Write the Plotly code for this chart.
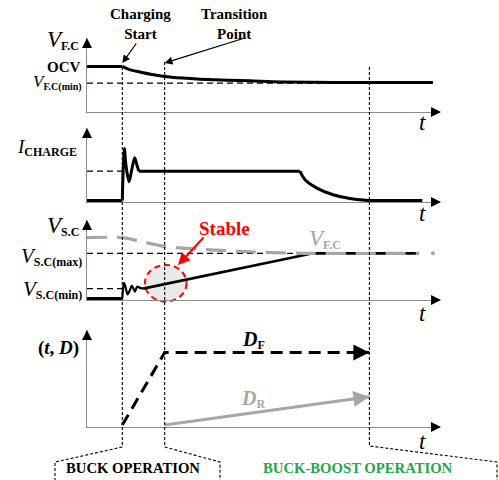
import plotly.graph_objects as go

# ---- time markers (arbitrary time units, axis runs 0..10) ----
T_MAX = 10.0
T_START = 1.0     # charging start
T_TRANS = 2.2     # transition point
T_END = 8.0       # end of buck-boost interval shown

# ---- V_F.C (fuel-cell voltage) ----
OCV = 0.608
VFC_MIN = 0.378
vfc_flat_t = [0, 1.0]
vfc_flat_v = [0.608, 0.608]
vfc_t = [1.0, 1.2, 1.5, 1.8, 2.2, 2.7, 3.2, 4.0, 4.6, 5.5, 7.0, 9.8]
vfc_v = [0.608, 0.565, 0.531, 0.500, 0.469, 0.447, 0.432, 0.418, 0.410, 0.395, 0.388, 0.385]

# ---- I_CHARGE ----
I_LEVEL = 0.405
ich_pre_t = [0, 1.0]
ich_pre_v = [0, 0]
ich_osc_t = [1.0, 1.02, 1.06, 1.10, 1.19, 1.27, 1.35, 1.42, 1.47]
ich_osc_v = [0, 0.35, 0.716, 0.50, 0.26, 0.43, 0.59, 0.48, 0.405]
ich_flat_t = [1.47, 6.03]
ich_flat_v = [0.405, 0.405]
ich_dec_t = [6.03, 6.17, 6.5, 6.97, 7.45, 8.0]
ich_dec_v = [0.405, 0.29, 0.175, 0.08, 0.027, 0.0]
ich_tail_t = [8.0, 9.5]
ich_tail_v = [0, 0]

# ---- V_S.C (supercapacitor voltage) with V_F.C overlay ----
VSC_MAX = 0.575
VSC_MIN = 0.125
vfc2_t = [0, 1.0, 1.5, 2.2, 3.5, 4.6, 6.2, 9.4]
vfc2_v = [0.775, 0.775, 0.73, 0.6625, 0.62, 0.595, 0.575, 0.575]
vfc2_dot_t = [9.8]
vfc2_dot_v = [0.575]
vsc_pre_t = [0, 1.0]
vsc_pre_v = [0, 0]
vsc_osc_t = [1.0, 1.02, 1.05, 1.10, 1.15, 1.21, 1.27, 1.32, 1.36, 1.42, 1.50, 1.59]
vsc_osc_v = [0, 0.12, 0.20, 0.13, 0.05, 0.10, 0.1625, 0.12, 0.0875, 0.15, 0.135, 0.125]
vsc_ramp_t = [1.59, 6.4, 9.4]
vsc_ramp_v = [0.125, 0.575, 0.575]
stable_t = 2.23      # centre of the "stable" region
stable_v = 0.209
stable_rt = 0.59
stable_rv = 0.229

# ---- duty cycles ----
df_t = [1.0, 2.2, 8.0]
df_v = [0.0, 0.763, 0.763]
dr_t = [2.2, 8.0]
dr_v = [0.0, 0.299]

# ---------------- layout geometry ----------------
W, H = 499, 480
X_LEFT, X_RIGHT = 87, 440
bottoms = [112, 202, 300, 427]
tops = [38, 128, 220, 330]
FONT = "Liberation Serif, Times New Roman, serif"
GRAY = "#a6a6a6"
AXIS_GRAY = "#8c8c8c"


def px(x):
    return x / W


def py(y):
    return 1 - y / H


XDOM = [px(X_LEFT), px(X_RIGHT)]


def tx(t):
    return XDOM[0] + t / T_MAX * (XDOM[1] - XDOM[0])


def vy(panel, v):
    b, t = bottoms[panel], tops[panel]
    return py(b) + v * (py(t) - py(b))


fig = go.Figure()


def add_line(xs, ys, n, color="black", width=3, dash="solid", shape="linear"):
    sfx = "" if n == 1 else str(n)
    fig.add_trace(go.Scatter(
        x=xs, y=ys, mode="lines", xaxis="x" + sfx, yaxis="y" + sfx,
        line=dict(color=color, width=width, dash=dash, shape=shape, smoothing=0.8),
        hoverinfo="skip", showlegend=False))


# panel 1: V_F.C
add_line([0, 9.8], [VFC_MIN, VFC_MIN], 1, width=1.2, dash="6px,4px")
add_line(vfc_flat_t, vfc_flat_v, 1)
add_line(vfc_t, vfc_v, 1, shape="spline")

# panel 2: I_CHARGE
add_line([0, T_START], [I_LEVEL, I_LEVEL], 2, width=1.2, dash="6px,4px")
add_line(ich_pre_t, ich_pre_v, 2)
add_line(ich_osc_t, ich_osc_v, 2, shape="spline")
add_line(ich_flat_t, ich_flat_v, 2)
add_line(ich_dec_t, ich_dec_v, 2, shape="spline")
add_line(ich_tail_t, ich_tail_v, 2)

# panel 3: V_S.C
add_line([0, 9.4], [VSC_MAX, VSC_MAX], 3, width=1.2, dash="6px,4px")
add_line([0, T_START], [VSC_MIN, VSC_MIN], 3, width=1.2, dash="6px,4px")
add_line(vsc_pre_t, vsc_pre_v, 3)
add_line(vsc_osc_t, vsc_osc_v, 3, width=2.2, shape="spline")
add_line(vsc_ramp_t, vsc_ramp_v, 3, width=2.6)
add_line(vfc2_t, vfc2_v, 3, color=GRAY, width=3.2, dash="20px,10px", shape="spline")
fig.add_trace(go.Scatter(x=vfc2_dot_t, y=vfc2_dot_v, mode="markers", xaxis="x3", yaxis="y3",
                         marker=dict(color=GRAY, size=4), hoverinfo="skip", showlegend=False))

# panel 4: duty cycles
add_line(df_t, df_v, 4, width=3, dash="12px,7px")
add_line(dr_t, dr_v, 4, color=GRAY, width=3)

# axes
layout_axes = {}
for i in range(4):
    sfx = "" if i == 0 else str(i + 1)
    layout_axes["xaxis" + sfx] = dict(
        domain=XDOM, range=[0, T_MAX], anchor="y" + sfx, showline=True,
        linecolor=AXIS_GRAY, linewidth=1, showgrid=False, zeroline=False,
        showticklabels=False, ticks="", fixedrange=True)
    layout_axes["yaxis" + sfx] = dict(
        domain=[py(bottoms[i]), py(tops[i])], range=[-0.02, 1], anchor="x" + sfx,
        showline=True, linecolor=AXIS_GRAY, linewidth=1, showgrid=False,
        zeroline=False, showticklabels=False, ticks="", fixedrange=True)

shapes = []
dash_fine = dict(color="black", width=1.1, dash="3px,2px")
# vertical markers continuing into the operating-mode brackets
shapes.append(dict(type="path", xref="paper", yref="paper", line=dash_fine,
                   path=f"M {tx(T_START)},{py(67)} L {tx(T_START)},{py(447)} "
                        f"L {px(55)},{py(462)} L {px(55)},{py(481)}"))
shapes.append(dict(type="path", xref="paper", yref="paper", line=dash_fine,
                   path=f"M {tx(T_TRANS)},{py(62)} L {tx(T_TRANS)},{py(447)} "
                        f"L {px(220)},{py(462)} L {px(220)},{py(481)}"))
shapes.append(dict(type="path", xref="paper", yref="paper", line=dash_fine,
                   path=f"M {tx(T_END)},{py(67)} L {tx(T_END)},{py(446)} "
                        f"L {px(497)},{py(462)} L {px(497)},{py(481)}"))
# stable region highlight
shapes.append(dict(type="circle", xref="paper", yref="paper", layer="below",
                   x0=tx(stable_t - stable_rt), x1=tx(stable_t + stable_rt),
                   y0=vy(2, stable_v - stable_rv), y1=vy(2, stable_v + stable_rv),
                   fillcolor="rgba(215,215,215,0.55)",
                   line=dict(color="#ff0000", width=2, dash="6px,4px")))

ann = []


def label(text, x, y, size=15, color="black", xanchor="center"):
    ann.append(dict(text=text, x=px(x), y=py(y), xref="paper", yref="paper",
                    showarrow=False, xanchor=xanchor, yanchor="middle",
                    font=dict(family=FONT, size=size, color=color)))


def sym(main, sub, main_size, sub_size, color="black", bold_main=False):
    m = f"<i>{main}</i>" if not bold_main else f"<b><i>{main}</i></b>"
    return (f"<span style='font-size:{main_size}px;color:{color}'>{m}</span>"
            f"<sub><span style='font-size:{sub_size}px;color:{color}'><b>{sub}</b></span></sub>")


label(sym("V", "F.C", 23, 12), 81, 40, xanchor="right")
label("<b>OCV</b>", 83, 67, size=15, xanchor="right")
label(sym("V", "F.C(min)", 17, 10), 84, 83, xanchor="right")
label(sym("I", "CHARGE", 19, 12), 79, 147, xanchor="right")
label(sym("V", "S.C", 23, 12), 81, 226, xanchor="right")
label(sym("V", "S.C(max)", 21, 12), 84, 256, xanchor="right")
label(sym("V", "S.C(min)", 21, 12), 84, 289, xanchor="right")
label("<b>(<i>t</i>, <i>D</i>)</b>", 81, 348, size=19, xanchor="right")
for yy in [122, 213, 313, 441]:
    label("<i>t</i>", 422, yy, size=23)
label("<b>Charging<br>Start</b>", 140, 24, size=15)
label("<b>Transition<br>Point</b>", 234, 24, size=15)
label("<b>Stable</b>", 224, 228, size=19, color="#ff0000")
label(sym("V", "F.C", 23, 12, color=GRAY), 325, 239)
label(sym("D", "F", 20, 12, bold_main=True), 254, 340)
label(sym("D", "R", 20, 12, color=GRAY, bold_main=True), 253, 399)
label("<b>BUCK OPERATION</b>", 133, 468, size=14.7)
label("<b>BUCK-BOOST OPERATION</b>", 358, 468, size=14.7, color="#1fa84a")


def arrow(x, y, ax, ay, color="black", width=1.2, size=1.0, xref="paper", yref="paper"):
    ann.append(dict(x=x, y=y, ax=ax, ay=ay, xref=xref, yref=yref, text="",
                    showarrow=True, arrowhead=2, arrowsize=size, arrowwidth=width,
                    arrowcolor=color))


# axis arrowheads
for i in range(4):
    arrow(px(X_LEFT), py(tops[i]), 0, 9, width=1, size=2.0)
    arrow(px(X_RIGHT + 1), py(bottoms[i]), -9, 0, width=1, size=2.0)

# callout arrows
arrow(tx(T_START), py(63), 15, -21, width=1.2, size=1.3)
arrow(tx(T_TRANS), py(63), 80, -25, width=1.2, size=1.3)
arrow(px(178), py(265), 27, -29, color="#ff0000", width=2, size=1.2)
# duty-cycle arrowheads at the end of each trace
arrow(df_t[-1], df_v[-1], -14, 0, width=2, size=1.6, xref="x4", yref="y4")
arrow(dr_t[-1], dr_v[-1], -14, 2, color=GRAY, width=2, size=1.6, xref="x4", yref="y4")

fig.update_layout(
    width=W, height=H, margin=dict(l=0, r=0, t=0, b=0),
    paper_bgcolor="white", plot_bgcolor="rgba(0,0,0,0)",
    showlegend=False, shapes=shapes, annotations=ann,
    font=dict(family=FONT), **layout_axes)

fig.write_html("out.html")
